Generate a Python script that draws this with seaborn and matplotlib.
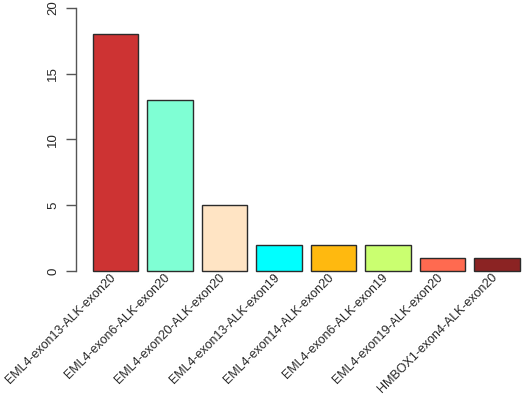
import pandas as pd
import matplotlib
matplotlib.use("Agg")
import matplotlib.pyplot as plt
import seaborn as sns

fusions = [
    "EML4-exon13-ALK-exon20",
    "EML4-exon6-ALK-exon20",
    "EML4-exon20-ALK-exon20",
    "EML4-exon13-ALK-exon19",
    "EML4-exon14-ALK-exon20",
    "EML4-exon6-ALK-exon19",
    "EML4-exon19-ALK-exon20",
    "HMBOX1-exon4-ALK-exon20",
]
counts = [18, 13, 5, 2, 2, 2, 1, 1]
colors = ["#CD3333", "#7FFFD4", "#FFE4C4", "#00FFFF",
          "#FFB90F", "#CAFF70", "#FF6A50", "#8B2323"]

df = pd.DataFrame({"fusion": fusions, "count": counts})

sns.set_theme(style="white")
plt.rcParams["font.family"] = ["Liberation Sans", "DejaVu Sans"]

fig = plt.figure(figsize=(5.29, 3.95), dpi=100)
ax = fig.add_axes([76 / 529, 1 - 276.3 / 395, 460 / 529, 273.6 / 395])

sns.barplot(data=df, x="fusion", y="count", hue="fusion", palette=colors,
            legend=False, width=0.833, edgecolor="#2b2b2b", linewidth=1,
            saturation=1, ax=ax)

ax.set_xlim(-0.726, 7.717)
ax.set_ylim(-0.4, 20.4)
ax.set_xlabel("")
ax.set_ylabel("")

# R-style axes: left axis only, spanning tick range
for s in ["top", "right", "bottom"]:
    ax.spines[s].set_visible(False)
ax.spines["left"].set_bounds(0, 20)
ax.spines["left"].set_color("#555555")
ax.spines["left"].set_linewidth(1)
ax.set_yticks([0, 5, 10, 15, 20])
ax.tick_params(axis="y", left=True, direction="out", length=7, width=1,
               color="#555555", labelsize=9.5, pad=5)
for lab in ax.get_yticklabels():
    lab.set_rotation(90)
    lab.set_va("center")

ax.set_xticks([])
for i, name in enumerate(fusions):
    ax.text(i - 0.03, -0.35, name, rotation=45, rotation_mode="anchor",
            ha="right", va="center", fontsize=9, clip_on=False)

fig.savefig("out.png", dpi=100)
plt.close(fig)
